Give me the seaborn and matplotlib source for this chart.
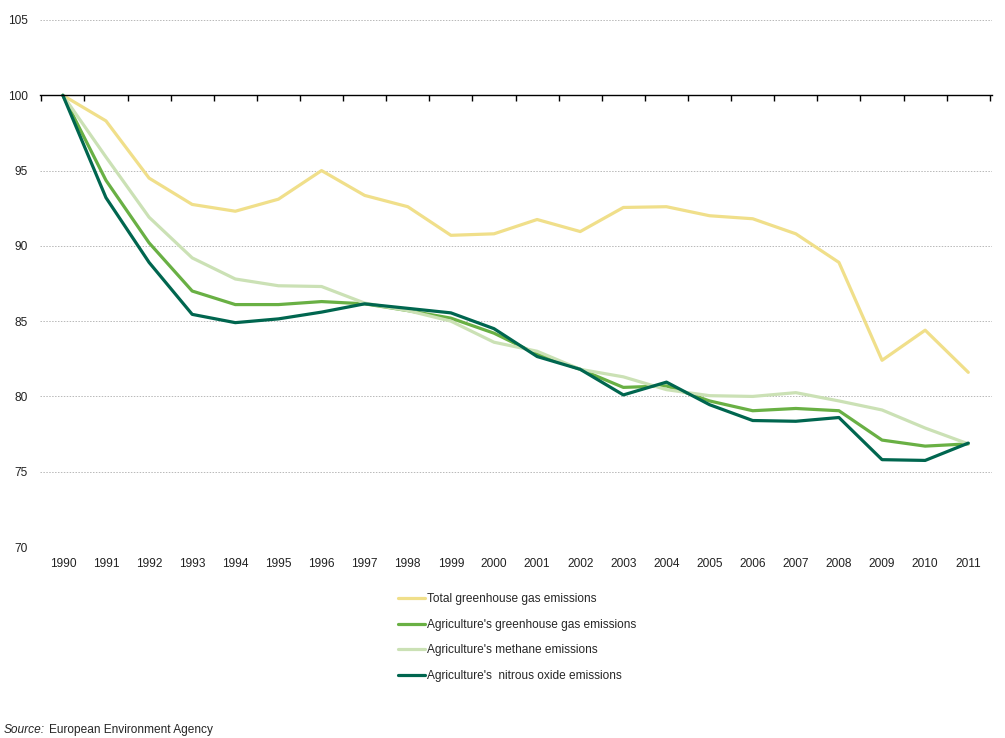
import numpy as np
import pandas as pd
import matplotlib
matplotlib.use("Agg")
import matplotlib.pyplot as plt
import seaborn as sns

years = list(range(1990, 2012))

total_ghg = [100, 98.3, 94.5, 92.75, 92.3, 93.1, 95.0, 93.35, 92.6, 90.7, 90.8,
             91.75, 90.95, 92.55, 92.6, 92.0, 91.8, 90.8, 88.9, 82.4, 84.4, 81.6]
agri_ghg = [100, 94.35, 90.2, 87.0, 86.1, 86.1, 86.3, 86.15, 85.7, 85.2, 84.2,
            82.8, 81.8, 80.6, 80.7, 79.7, 79.05, 79.2, 79.05, 77.1, 76.7, 76.85]
agri_methane = [100, 95.9, 91.9, 89.2, 87.8, 87.35, 87.3, 86.2, 85.7, 85.0, 83.6,
                83.0, 81.8, 81.3, 80.45, 80.05, 80.0, 80.25, 79.7, 79.1, 77.9, 76.85]
agri_n2o = [100, 93.2, 88.9, 85.45, 84.9, 85.15, 85.6, 86.15, 85.85, 85.55, 84.5,
            82.65, 81.8, 80.1, 80.95, 79.45, 78.4, 78.35, 78.6, 75.8, 75.75, 76.9]

series_names = ["Total greenhouse gas emissions",
                "Agriculture's greenhouse gas emissions",
                "Agriculture's methane emissions",
                "Agriculture's  nitrous oxide emissions"]
colors = ["#F0DF8A", "#69B044", "#CBE1B5", "#00664F"]
y_ticks = [70, 75, 80, 85, 90, 95, 100, 105]

df = pd.DataFrame({
    "year": years * 4,
    "value": total_ghg + agri_ghg + agri_methane + agri_n2o,
    "series": [s for s in series_names for _ in years],
})

sns.set_theme(style="white")
plt.rcParams["font.family"] = ["Liberation Sans", "DejaVu Sans"]
fs = 8.6

fig = plt.figure(figsize=(10.05, 7.38), dpi=100)
ax = fig.add_axes([40 / 1005, 1 - 547 / 738, 952 / 1005, 527 / 738])

sns.lineplot(data=df, x="year", y="value", hue="series", hue_order=series_names,
             palette=colors, linewidth=2.3, ax=ax, legend=True)

ax.set_xlim(years[0] - 0.53, years[-1] + 0.55)
ax.set_ylim(70, 105)
ax.set_xlabel("")
ax.set_ylabel("")

# dashed grid
ax.set_yticks(y_ticks)
ax.yaxis.grid(True, color="#b8b8b8", linestyle=(0, (1.5, 1.5)), linewidth=0.7)
ax.set_axisbelow(True)
ax.tick_params(axis="y", length=0, pad=9, labelsize=fs, colors="#222222")

for side in ["top", "right", "left"]:
    ax.spines[side].set_visible(False)

# category axis crossing at 100
ax.spines["bottom"].set_position(("data", 100))
ax.spines["bottom"].set_color("black")
ax.spines["bottom"].set_linewidth(1.0)
ax.spines["bottom"].set_zorder(5)
ax.set_xticks([y - 0.5 for y in years] + [years[-1] + 0.5])
ax.tick_params(axis="x", which="major", direction="out", length=4, width=1,
               color="black", labelbottom=False, bottom=True)

sec = ax.secondary_xaxis("bottom")
sec.set_xticks(years)
sec.set_xticklabels([str(y) for y in years])
sec.tick_params(length=0, pad=8, labelsize=fs, colors="#222222")
sec.spines["bottom"].set_visible(False)

handles, labels = ax.get_legend_handles_labels()
ax.get_legend().remove()
fig.legend(handles, labels, loc="upper left", bbox_to_anchor=(398 / 1005, 1 - 593 / 738),
           frameon=False, fontsize=fs, handlelength=2.3, handletextpad=0.15,
           labelspacing=1.15, borderpad=0, borderaxespad=0)

fig.text(4 / 1005, 1 - 730 / 738, "Source:", fontsize=fs, style="italic", va="center")
fig.text(49 / 1005, 1 - 730 / 738, "European Environment Agency", fontsize=fs, va="center")

fig.savefig("out.png", dpi=100)
